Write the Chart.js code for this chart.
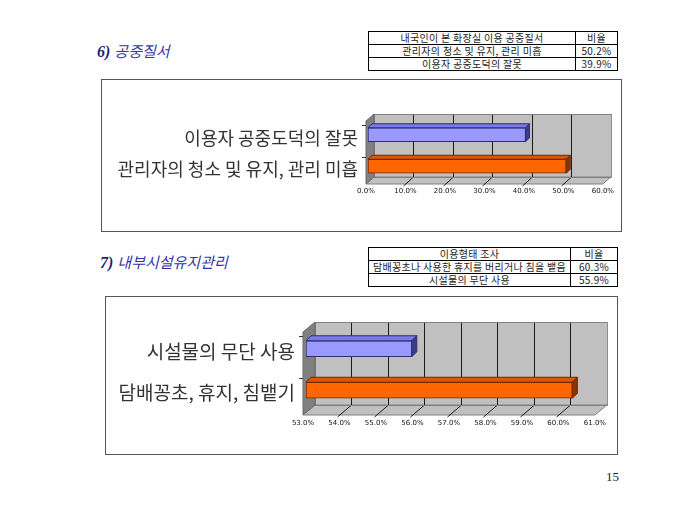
<!DOCTYPE html>
<html>
<head>
<meta charset="utf-8">
<script src="https://cdn.jsdelivr.net/npm/chart.js@4/dist/chart.umd.min.js"></script>
<style>
  body { margin: 0; background: #fff; }
  #page { position: relative; width: 680px; height: 510px; overflow: hidden; font-family: "Noto Sans CJK KR", sans-serif; }
  .title { position: absolute; font-size: 15px; font-style: italic; color: #3535a8; white-space: nowrap; }
  .title b { font-family: "Liberation Serif", serif; color: #1f1f78; font-size: 16px; margin-right: 4px; }
  .tbl { position: absolute; border-collapse: collapse; font-size: 10px; color: #222; letter-spacing: 0.3px; }
  .tbl td { border: 1px solid #000; height: 12px; line-height: 12px; padding: 0; text-align: center; white-space: nowrap; }
  .box { position: absolute; border: 1px solid #555; }
  .box canvas { display: block; }
  #pageno { position: absolute; left: 606px; top: 469px; font-family: "Liberation Serif", serif; font-size: 13px; color: #222; }
</style>
</head>
<body>
<div id="page">
  <div class="title" style="left:97px; top:40px;"><b>6)</b>공중질서</div>
  <table class="tbl" id="tbl1" style="left:368px; top:31px; width:250px;"></table>
  <div class="box" style="left:101px; top:79px;"><canvas id="chart1" width="519" height="151"></canvas></div>

  <div class="title" style="left:100px; top:251px;"><b>7)</b>내부시설유지관리</div>
  <table class="tbl" id="tbl2" style="left:368px; top:247px; width:250px;"></table>
  <div class="box" style="left:105px; top:296px;"><canvas id="chart2" width="511" height="157"></canvas></div>

  <div id="pageno">15</div>
</div>
<script>
// 6) 공중질서
const orderCats = ["이용자 공중도덕의 잘못", "관리자의 청소 및 유지, 관리 미흡"];
const orderVals = [39.9, 50.2];
const orderTableHead = ["내국인이 본 화장실 이용 공중질서", "비율"];
const orderTableRows = [["관리자의 청소 및 유지, 관리 미흡", "50.2%"], ["이용자 공중도덕의 잘못", "39.9%"]];

// 7) 내부시설유지관리
const facilityCats = ["시설물의 무단 사용", "담배꽁초, 휴지, 침뱉기"];
const facilityVals = [55.9, 60.3];
const facilityTableHead = ["이용형태 조사", "비율"];
const facilityTableRows = [["담배꽁초나 사용한 휴지를 버리거나 침을 뱉음", "60.3%"], ["시설물의 무단 사용", "55.9%"]];

const frontColors = ["#9999ff", "#ff6600"];
const topColors = ["#7a7ae6", "#dd5500"];
const sideColors = ["#3c3c8c", "#8c3300"];
const edgeColors = ["#2e2e70", "#6b2800"];

const fillTable = (id, head, rows, firstWidth) => {
  const t = document.getElementById(id);
  [head].concat(rows).forEach(r => {
    const tr = document.createElement("tr");
    r.forEach((c, i) => {
      const td = document.createElement("td");
      td.textContent = c;
      if (i === 0) td.style.width = firstWidth + "px";
      tr.appendChild(td);
    });
    t.appendChild(tr);
  });
};
fillTable("tbl1", orderTableHead, orderTableRows, 206);
fillTable("tbl2", facilityTableHead, facilityTableRows, 201);

const poly = (ctx, pts, fill, stroke) => {
  ctx.beginPath();
  pts.forEach((p, i) => i ? ctx.lineTo(p[0], p[1]) : ctx.moveTo(p[0], p[1]));
  ctx.closePath();
  ctx.fillStyle = fill;
  ctx.fill();
  if (stroke) { ctx.strokeStyle = stroke; ctx.lineWidth = 1; ctx.stroke(); }
};

const line = (ctx, x1, y1, x2, y2) => {
  ctx.beginPath();
  ctx.moveTo(x1, y1);
  ctx.lineTo(x2, y2);
  ctx.stroke();
};

// fake excel-like 3d walls + bar caps
const box3d = {
  id: "box3d",
  beforeDatasetsDraw(chart, args, o) {
    const { ctx, chartArea: a, scales: { x, y } } = chart;
    const fl = a.left - o.sx, fr = a.right - o.sx, ft = a.top + o.sy, fb = a.bottom + o.sy;
    const bl = fl + o.dx, br = fr + o.dx, bt = ft - o.dy, bb = fb - o.dy;
    ctx.save();
    ctx.fillStyle = "#c0c0c0";
    ctx.fillRect(bl, bt, br - bl, bb - bt);
    poly(ctx, [[fl, fb], [fr, fb], [br, bb], [bl, bb]], "#c0c0c0", "#808080");
    ctx.strokeStyle = "#1a1a1a";
    ctx.lineWidth = 1;
    x.ticks.forEach((t, i) => {
      if (i === 0 || i === x.ticks.length - 1) return;
      const px = Math.round(x.getPixelForValue(t.value) - o.sx) + 0.5;
      line(ctx, px + o.dx, bt, px + o.dx, bb);
      line(ctx, px - 2, fb + 2, px + o.dx, bb);
    });
    ctx.strokeStyle = "#808080";
    ctx.strokeRect(bl + 0.5, bt + 0.5, br - bl, bb - bt);
    poly(ctx, [[fl, ft], [bl, bt], [bl, bb], [fl, fb]], "#808080", "#6a6a6a");
    ctx.strokeStyle = "#333";
    const band = (fb - ft) / y.ticks.length;
    for (let i = 0; i < y.ticks.length; i++) {
      const py = Math.round(ft + band * i + 4) + 0.5;
      line(ctx, fl - 4, py, fl, py);
    }
    ctx.restore();
  },
  afterDatasetsDraw(chart, args, o) {
    const ctx = chart.ctx;
    const left = chart.chartArea.left;
    const d = o.bd;
    ctx.save();
    chart.getDatasetMeta(0).data.forEach((bar, i) => {
      const p = bar.getProps(["x", "y", "base", "height"], true);
      const b0 = Math.max(p.base, left);
      const top = p.y - p.height / 2, bot = p.y + p.height / 2;
      poly(ctx, [[b0, top], [p.x, top], [p.x + d, top - d], [b0 + d, top - d]], topColors[i], edgeColors[i]);
      poly(ctx, [[p.x, top], [p.x + d, top - d], [p.x + d, bot - d], [p.x, bot]], sideColors[i], edgeColors[i]);
    });
    ctx.restore();
  }
};

const makeChart = (id, cats, vals, cfg) => {
  return new Chart(document.getElementById(id), {
    type: "bar",
    data: {
      labels: cats,
      datasets: [{
        data: vals,
        base: cfg.min,
        backgroundColor: frontColors,
        borderColor: edgeColors,
        borderWidth: 1,
        borderSkipped: false,
        barThickness: cfg.barThickness
      }]
    },
    plugins: [box3d],
    options: {
      indexAxis: "y",
      responsive: false,
      animation: false,
      layout: { padding: { top: cfg.top, right: cfg.right, bottom: cfg.bottom, left: 0 } },
      plugins: {
        legend: { display: false },
        tooltip: { enabled: false },
        box3d: cfg.box
      },
      scales: {
        x: {
          min: cfg.min,
          max: cfg.max,
          afterFit: s => { s.height = 16; },
          grid: { display: false, drawTicks: false },
          border: { display: false },
          ticks: {
            stepSize: cfg.step,
            autoSkip: false,
            maxRotation: 0,
            padding: cfg.xPad,
            labelOffset: -cfg.box.sx,
            color: "#111",
            font: { family: "DejaVu Sans", size: 7 },
            callback: v => v.toFixed(1) + "%"
          }
        },
        y: {
          afterFit: s => { s.width = cfg.yWidth; },
          grid: { display: false, drawTicks: false },
          border: { display: false },
          ticks: {
            padding: cfg.yPad,
            labelOffset: 3,
            color: "#333",
            font: { family: "Noto Sans CJK KR", size: cfg.labelSize }
          }
        }
      }
    }
  });
};

makeChart("chart1", orderCats, orderVals, {
  min: 0, max: 60, step: 10,
  top: 39, right: 16, bottom: 33, yWidth: 266,
  xPad: 5, yPad: 10, labelSize: 18, barThickness: 14,
  box: { sx: 2, sy: 2, dx: 8, dy: 7, bd: 4 }
});

makeChart("chart2", facilityCats, facilityVals, {
  min: 53, max: 61, step: 1,
  top: 31, right: 17, bottom: 27, yWidth: 200,
  xPad: 8, yPad: 11, labelSize: 19, barThickness: 16,
  box: { sx: 3, sy: 4, dx: 12, dy: 10, bd: 5 }
});
</script>
</body>
</html>
